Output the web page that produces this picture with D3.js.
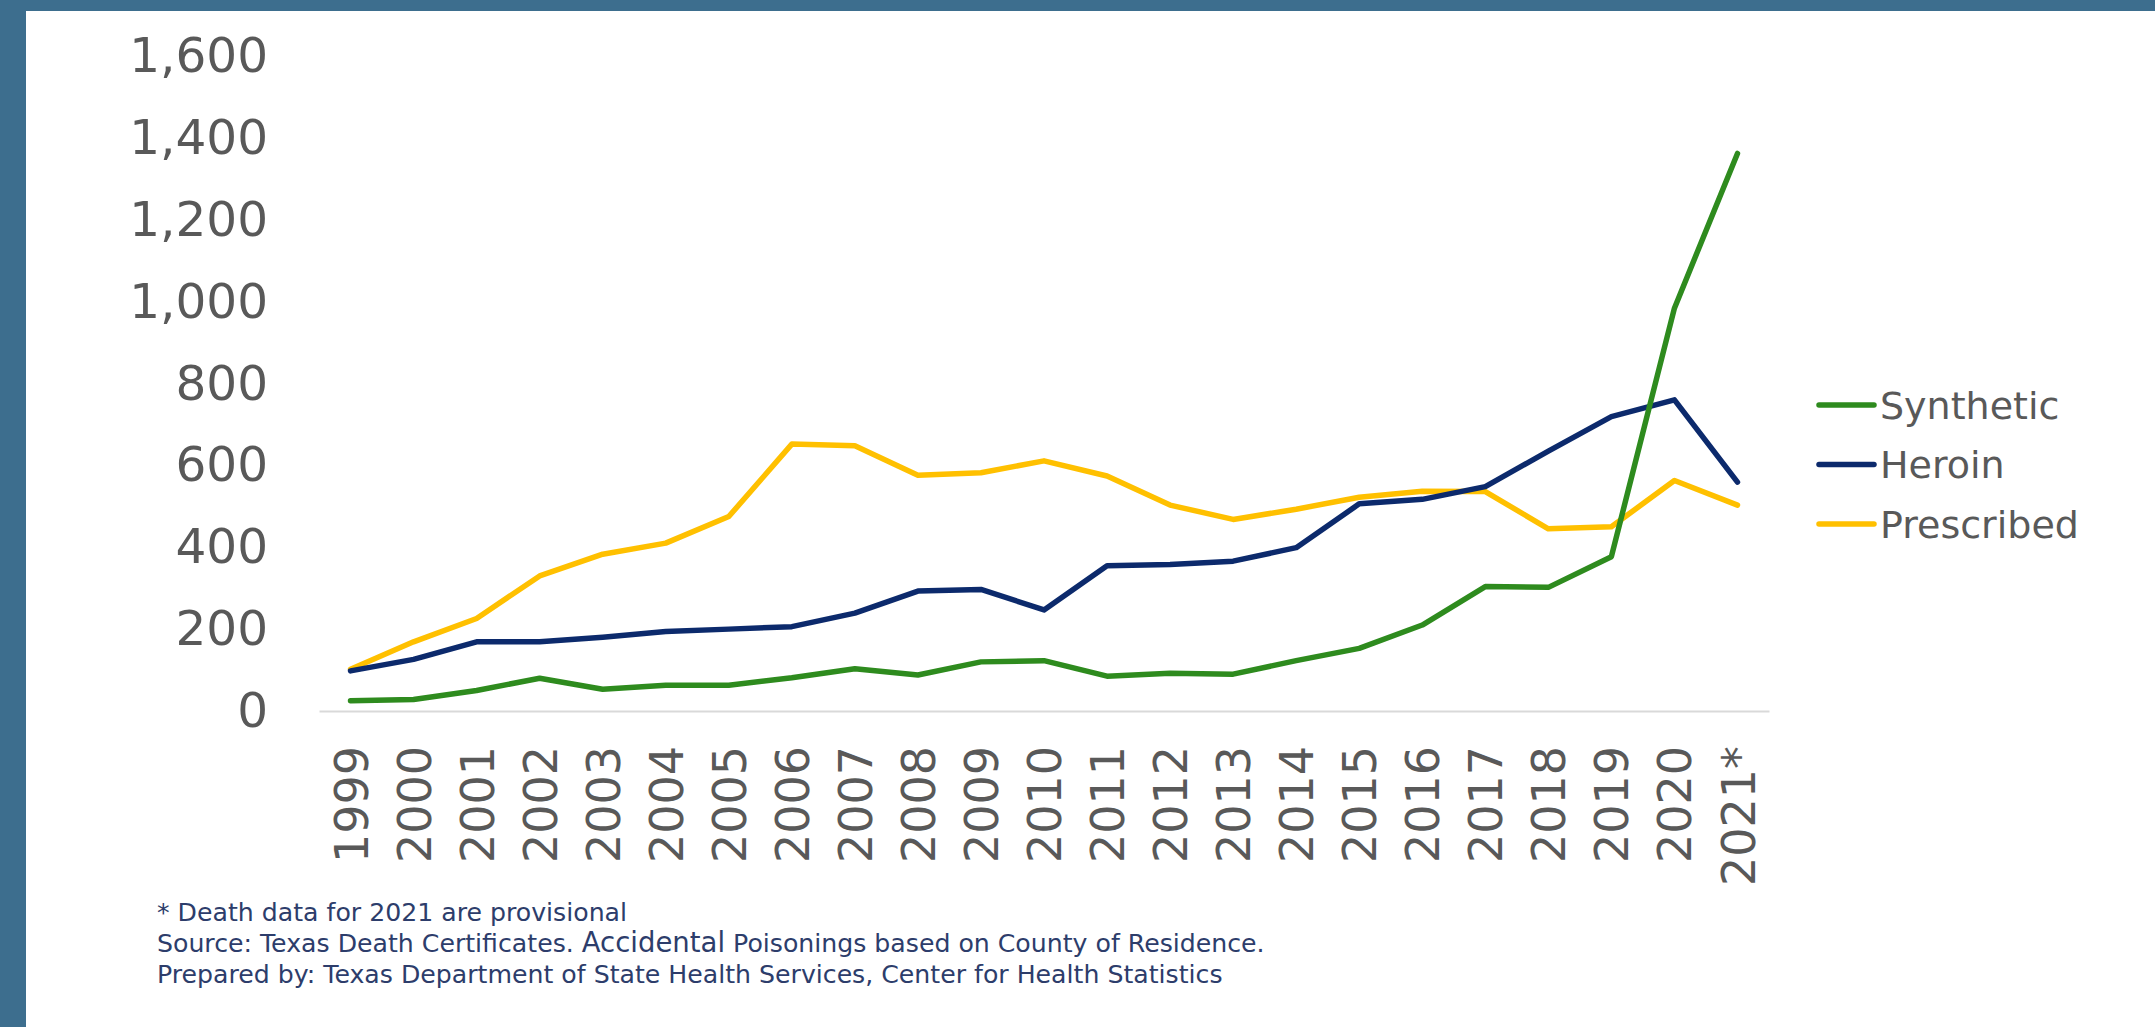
<!DOCTYPE html>
<html lang="en">
<head>
    <meta charset="UTF-8">
    <title>Texas Accidental Poisoning Deaths by Opioid Type</title>
    <script src="https://d3js.org/d3.v7.min.js"></script>
    <style>
        body {
            margin: 0;
            background: #fff;
        }
        svg, svg text {
            display: block;
            font-family: "DejaVu Sans", Verdana, sans-serif;
        }
        .tick text {
            fill: #595959;
        }
        .legend text {
            fill: #595959;
            font-size: 38px;
        }
        .note {
            fill: #2d3d6b;
            font-size: 25.2px;
        }
    </style>
</head>
<body>
    <svg id="chart" width="2155" height="1027"></svg>

    <script>
        // Data
        const years = ["1999", "2000", "2001", "2002", "2003", "2004", "2005", "2006", "2007", "2008", "2009",
            "2010", "2011", "2012", "2013", "2014", "2015", "2016", "2017", "2018", "2019", "2020", "2021*"];
        const yTicks = [0, 200, 400, 600, 800, 1000, 1200, 1400, 1600];

        const synthetic = [25, 28, 50, 80, 53, 63, 63, 81, 103, 88, 120,
            123, 85, 92, 90, 123, 153, 210, 304, 302, 377, 984, 1362];
        const heroin = [98, 126, 169, 169, 180, 194, 200, 206, 239, 293, 297,
            247, 355, 358, 366, 399, 506, 517, 548, 635, 719, 760, 559];
        const prescribed = [102, 169, 226, 330, 383, 410, 475, 652, 648, 576, 582,
            611, 574, 503, 468, 493, 522, 537, 536, 445, 450, 563, 503];

        const seriesNames = ["Synthetic", "Heroin", "Prescribed"];
        const seriesColors = ["#2e8b1e", "#0c2a6c", "#ffc000"];

        const notes = [
            "* Death data for 2021 are provisional",
            "Source: Texas Death Certificates. |Accidental| Poisonings based on County of Residence.",
            "Prepared by: Texas Department of State Health Services, Center for Health Statistics"
        ];

        const svg = d3.select("#chart");

        // Cadre bleu (haut et gauche)
        svg.append("rect").attr("x", 0).attr("y", 0).attr("width", 2155).attr("height", 11).attr("fill", "#3d6e8e");
        svg.append("rect").attr("x", 0).attr("y", 0).attr("width", 26).attr("height", 1027).attr("fill", "#3d6e8e");

        // Echelles
        const x = d3.scalePoint()
            .domain(years)
            .range([319, 1769])
            .padding(0.5);

        const y = d3.scaleLinear()
            .domain([0, 1600])
            .range([711, 56]);

        // Axe Y
        const yAxis = svg.append("g")
            .attr("transform", "translate(319,0)")
            .call(d3.axisLeft(y).tickValues(yTicks).tickSize(0).tickPadding(51).tickFormat(d3.format(",")));
        yAxis.attr("font-family", null);
        yAxis.select(".domain").remove();
        yAxis.selectAll("text").style("font-size", "48.5px");

        // Axe X
        const xAxis = svg.append("g")
            .attr("transform", "translate(0,711)")
            .call(d3.axisBottom(x).tickSize(0).tickSizeOuter(0));
        xAxis.attr("font-family", null);
        xAxis.select(".domain")
            .attr("stroke", "#d9d9d9")
            .attr("stroke-width", 2);
        xAxis.selectAll("text")
            .style("font-size", "46px")
            .style("text-anchor", "end")
            .attr("transform", "rotate(-90)")
            .attr("x", -35)
            .attr("y", 0)
            .attr("dy", "0.36em");

        // Lignes
        const line = d3.line()
            .x((d, i) => x(years[i]))
            .y(d => y(d));

        const allSeries = [synthetic, heroin, prescribed];
        // ordre de dessin : prescribed, heroin, synthetic au-dessus
        [2, 1, 0].forEach(k => {
            svg.append("path")
                .datum(allSeries[k])
                .attr("d", line)
                .attr("fill", "none")
                .attr("stroke", seriesColors[k])
                .attr("stroke-width", 5.5)
                .attr("stroke-linejoin", "round")
                .attr("stroke-linecap", "round");
        });

        // Legende
        const legend = svg.append("g")
            .attr("class", "legend")
            .attr("transform", "translate(1819,405)");

        seriesNames.forEach((name, i) => {
            const row = legend.append("g")
                .attr("transform", `translate(0, ${i * 59.5})`);
            row.append("line")
                .attr("x1", 0)
                .attr("x2", 55)
                .attr("stroke", seriesColors[i])
                .attr("stroke-width", 5.5)
                .attr("stroke-linecap", "round");
            row.append("text")
                .attr("x", 61)
                .attr("dy", "0.36em")
                .text(name);
        });

        // Notes
        notes.forEach((t, i) => {
            const txt = svg.append("text")
                .attr("class", "note")
                .attr("x", 157)
                .attr("y", 921 + i * 31);
            t.split("|").forEach((part, j) => {
                txt.append("tspan")
                    .style("font-size", j === 1 ? "27.5px" : null)
                    .text(part);
            });
        });
    </script>
</body>
</html>
